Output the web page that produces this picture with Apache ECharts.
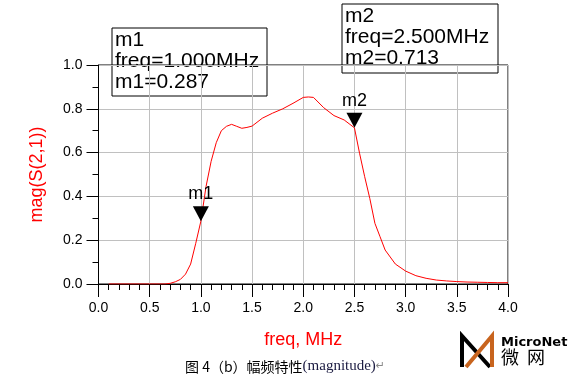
<!DOCTYPE html>
<html>
<head>
<meta charset="utf-8">
<script src="https://cdn.jsdelivr.net/npm/echarts@6/dist/echarts.min.js"></script>
<style>
html,body{margin:0;padding:0;background:#fff;}
#c{width:575px;height:379px;}
</style>
</head>
<body>
<div id="c"></div>
<script>
// ---- data ----
const freq = [0.1, 0.2, 0.3, 0.4, 0.5, 0.6, 0.65, 0.7, 0.75, 0.8, 0.85, 0.9, 0.95, 1.0, 1.05, 1.1, 1.15, 1.2, 1.25, 1.3, 1.35, 1.4, 1.45, 1.5, 1.6, 1.7, 1.8, 1.9, 2.0, 2.05, 2.1, 2.2, 2.3, 2.4, 2.5, 2.55, 2.6, 2.65, 2.7, 2.75, 2.8, 2.9, 3.0, 3.1, 3.2, 3.3, 3.4, 3.5, 3.6, 3.7, 3.8, 3.9, 4.0];
const mag  = [0.0, 0.0, 0.0, 0.0, 0.0, 0.0, 0.0, 0.003, 0.01, 0.021, 0.045, 0.091, 0.186, 0.287, 0.444, 0.56, 0.645, 0.70, 0.72, 0.729, 0.72, 0.711, 0.715, 0.721, 0.757, 0.78, 0.80, 0.825, 0.852, 0.854, 0.852, 0.805, 0.769, 0.749, 0.713, 0.597, 0.49, 0.391, 0.277, 0.216, 0.155, 0.091, 0.059, 0.038, 0.026, 0.018, 0.014, 0.011, 0.009, 0.008, 0.007, 0.006, 0.006];
const markerNames = ['m1', 'm2'];
const markerFreq  = [1.0, 2.5];
const markerMag   = [0.287, 0.713];
const xName = 'freq, MHz';
const yName = 'mag(S(2,1))';
const caption = '图 4（b）幅频特性(magnitude)';

const chart = echarts.init(document.getElementById('c'), null, {renderer: 'canvas'});

const lineData = freq.map((f, i) => [f, mag[i]]);
const mpData = markerNames.map((n, i) => ({name: n, coord: [markerFreq[i], markerMag[i]]}));

const boxPos = [[109.5, 25.5, 155, 68], [339.5, 1.5, 156, 69]];
const boxGraphics = markerNames.map((n, i) => {
  const [x, y, w, h] = boxPos[i];
  return {
    type: 'group', left: x, top: y,
    children: [
      {type: 'rect', shape: {x: 0, y: 0, width: w, height: h},
       style: {fill: 'none', stroke: '#000', lineWidth: 1}},
      {type: 'text', x: 3, y: 2,
       style: {text: n + '\nfreq=' + markerFreq[i].toFixed(3) + 'MHz\n' + n + '=' + markerMag[i].toFixed(3),
               font: '21px "Liberation Sans", Arial, sans-serif', fill: '#000', lineHeight: 21}}
    ]
  };
});

const axisFont = {fontFamily: '"Liberation Sans", Arial, sans-serif', fontSize: 14, color: '#000'};

chart.setOption({
  animation: false,
  backgroundColor: '#fff',
  grid: {left: 98.5, top: 65, right: 67, bottom: 95, show: true, borderColor: '#000', borderWidth: 1, backgroundColor: 'transparent'},
  xAxis: {
    type: 'value', min: 0, max: 4, interval: 0.5,
    name: xName, nameLocation: 'middle', nameGap: 47,
    nameTextStyle: {fontFamily: '"Liberation Sans", Arial, sans-serif', fontSize: 18, color: '#ff0000'},
    axisLine: {show: true, lineStyle: {color: '#000', width: 1}},
    axisTick: {show: true, inside: false, length: 13, lineStyle: {color: '#000'}},
    minorTick: {show: true, splitNumber: 5, length: 6, lineStyle: {color: '#000'}},
    axisLabel: Object.assign({margin: 17, formatter: v => v.toFixed(1)}, axisFont),
    splitLine: {show: true, lineStyle: {color: '#c0c0c0', width: 1}}
  },
  yAxis: {
    type: 'value', min: 0, max: 1, interval: 0.2,
    name: yName, nameLocation: 'middle', nameGap: 52, nameRotate: 90,
    nameTextStyle: {fontFamily: '"Liberation Sans", Arial, sans-serif', fontSize: 18, color: '#ff0000'},
    axisLine: {show: true, onZero: false, lineStyle: {color: '#000', width: 1}},
    axisTick: {show: true, inside: false, length: 12, lineStyle: {color: '#000'}},
    minorTick: {show: true, splitNumber: 2, length: 6, lineStyle: {color: '#000'}},
    axisLabel: Object.assign({margin: 16, formatter: v => v.toFixed(1)}, axisFont),
    splitLine: {show: true, lineStyle: {color: '#c0c0c0', width: 1}}
  },
  series: [{
    type: 'line', data: lineData, symbol: 'none', smooth: false,
    lineStyle: {color: '#ff0000', width: 1}, itemStyle: {color: '#ff0000'},
    markPoint: {
      symbol: 'triangle', symbolRotate: 180, symbolSize: [16, 15], symbolOffset: [0, -7.5],
      itemStyle: {color: '#000'},
      label: {show: true, position: 'top', distance: 3, formatter: p => p.name,
              fontFamily: '"Liberation Sans", Arial, sans-serif', fontSize: 18, color: '#000'},
      data: mpData
    },
    z: 3
  }],
  graphic: boxGraphics.concat([
    {type: 'text', left: 185, top: 359,
     style: {text: '{a|图 4（b）幅频特性}{b|(magnitude)}{c|↵}',
             rich: {
               a: {fontFamily: '"Noto Sans CJK SC", serif', fontSize: 14, fill: '#000', color: '#000'},
               b: {fontFamily: '"Liberation Serif", serif', fontSize: 15, fill: '#1a1a40', color: '#1a1a40'},
               c: {fontFamily: '"DejaVu Sans", sans-serif', fontSize: 11, fill: '#888', color: '#888'}
             }}},
    // MicroNet logo
    {type: 'polyline', shape: {points: [[462, 367], [462, 336], [490, 367]]},
     style: {stroke: '#000', lineWidth: 4, fill: 'none'}},
    {type: 'polyline', shape: {points: [[466, 367], [492, 336], [492, 367]]},
     style: {stroke: '#c8641e', lineWidth: 4, fill: 'none'}},
    {type: 'text', x: 501, y: 336,
     style: {text: 'MicroNet', font: 'bold 13px "DejaVu Sans", sans-serif', fill: '#000'}},
    {type: 'text', x: 501, y: 348,
     style: {text: '微  网', font: '18px "Noto Sans CJK SC", sans-serif', fill: '#000'}}
  ])
});
</script>
</body>
</html>
